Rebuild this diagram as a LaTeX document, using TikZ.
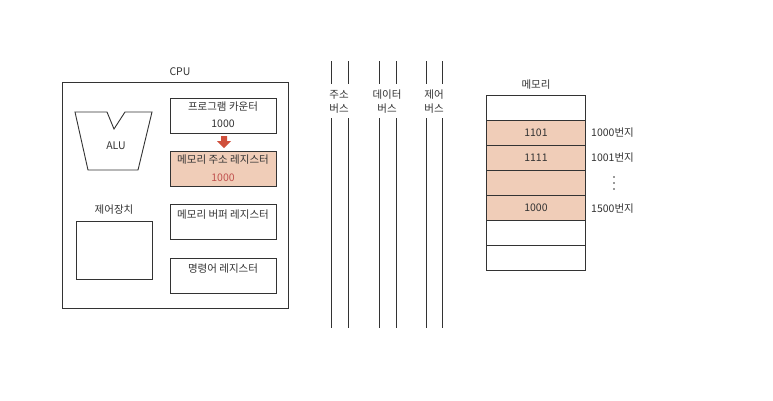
\documentclass[tikz,border=0pt]{standalone}
\usepackage{fontspec}
\setmainfont{Noto Sans CJK KR}
\definecolor{ink}{HTML}{333333}
\definecolor{peach}{HTML}{F0CDB8}
\definecolor{redtxt}{HTML}{C0504D}
\definecolor{arrowred}{HTML}{D0503C}
\begin{document}
\begin{tikzpicture}[x=1pt,y=-1pt,
  every node/.style={font=\fontsize{10.5}{12}\selectfont, text=ink, inner sep=0pt},
  line/.style={draw=ink, line width=0.9pt},
  reg/.style={line, minimum width=106pt, minimum height=35pt, anchor=north west},
  cell/.style={line, minimum width=99pt, minimum height=25pt, anchor=north west}]
\useasboundingbox[fill=white] (0,0) rectangle (773,400);
% CPU
\node (cpulbl) at (180,72) {CPU};
\node[line, minimum width=226pt, minimum height=226pt, anchor=north west] (cpu) at (62,82) {};
% ALU
\draw[line] (75,112) -- (107,112) -- (114,129) -- (125,112) -- (152,112) -- (138,170) -- (88,170) -- cycle;
\node (alu) at (116,146) {ALU};
% control unit
\node (ctllbl) at (114,210) {제어장치};
\node[line, minimum width=76pt, minimum height=58pt, anchor=north west] (ctl) at (76,221) {};
% registers
\node[reg] (pc) at (170,98) {};
\node (pct) at (223,107) {프로그램 카운터};
\node (pcv) at (223,124) {1000};
\node[reg, fill=peach] (mar) at (170,151) {};
\node (mart) at (223,160) {메모리 주소 레지스터};
\node[text=redtxt] (marv) at (223,178) {1000};
\node[reg] (mbr) at (170,204) {};
\node (mbrt) at (223,215) {메모리 버퍼 레지스터};
\node[reg] (ir) at (170,258) {};
\node (irt) at (223,269) {명령어 레지스터};
% red arrow
\fill[arrowred] (221,136) -- (227,136) -- (227,141) -- (231,141) -- (224,148) -- (217,141) -- (221,141) -- cycle;
% buses
\foreach \x/\n in {331/a1,348/a2,379/d1,396/d2,426/c1,442/c2}{
  \coordinate (\n t) at (\x,61);
  \coordinate (\n m) at (\x,84);
  \coordinate (\n n) at (\x,118);
  \coordinate (\n b) at (\x,328);
  \draw[line] (\n t) -- (\n m);
  \draw[line] (\n n) -- (\n b);
}
\node (ab1) at (339,95) {주소};
\node (ab2) at (339,109) {버스};
\node (db1) at (387,95) {데이터};
\node (db2) at (387,109) {버스};
\node (cb1) at (434,95) {제어};
\node (cb2) at (434,109) {버스};
% memory
\node (memlbl) at (536,85) {메모리};
\node[cell] (m0) at (486,95) {};
\node[cell, fill=peach] (m1) at (486,120) {1101};
\node[cell, fill=peach] (m2) at (486,145) {1111};
\node[cell, fill=peach] (m3) at (486,170) {};
\node[cell, fill=peach] (m4) at (486,195) {1000};
\node[cell] (m5) at (486,220) {};
\node[cell] (m6) at (486,245) {};
\node[anchor=west] (a1) at (591,133) {1000번지};
\node[anchor=west] (a2) at (591,158) {1001번지};
\foreach \y in {177,183,189} \fill[ink] (614,\y) circle (0.9pt);
\node[anchor=west] (a4) at (591,209) {1500번지};
\end{tikzpicture}
\end{document}
